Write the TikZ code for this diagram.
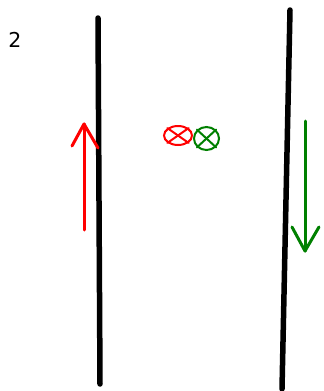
\documentclass[tikz,border=0pt]{standalone}
\usepackage{fontspec}
\setmainfont{DejaVu Sans}
\usetikzlibrary{shapes.geometric}
\definecolor{myred}{RGB}{255,0,0}
\definecolor{mygreen}{RGB}{0,128,0}
\begin{document}
\begin{tikzpicture}[x=1pt,y=-1pt,
  wall/.style={line width=5.5pt,line cap=round,black},
  redpen/.style={line width=3pt,line cap=round,line join=round,myred},
  greenpen/.style={line width=3pt,line cap=round,line join=round,mygreen},
  crossring/.style={draw,line width=2pt,ellipse,inner sep=0pt}]
\useasboundingbox (0,0) rectangle (324,391);
\node[font=\fontsize{20.5}{24}\selectfont,inner sep=0pt,anchor=base] (lbl) at (15,47.3) {2};
% walls
\coordinate (l1) at (98,18); \coordinate (l2) at (100,384);
\coordinate (r1) at (290,10); \coordinate (r2) at (282,389);
\draw[wall] (l1) -- (l2);
\draw[wall] (r1) -- (r2);
% red arrow
\coordinate (ra) at (84,230); \coordinate (rt) at (84,124);
\coordinate (rwl) at (72,146); \coordinate (rwr) at (98,148);
\draw[redpen] (ra) -- (rt);
\draw[redpen] (rwl) -- (rt) -- (rwr);
% green arrow
\coordinate (ga) at (305,121); \coordinate (gt) at (305,251);
\coordinate (gwl) at (292,227); \coordinate (gwr) at (319,227);
\draw[greenpen] (ga) -- (gt);
\draw[greenpen] (gwl) -- (gt) -- (gwr);
% red cross-circle
\node[crossring,draw=myred,minimum width=28pt,minimum height=19pt] (rc) at (178,135.5) {};
\draw[myred,line width=2pt,line cap=round] (rc.north west) -- (rc.south east);
\draw[myred,line width=2pt,line cap=round] (rc.south west) -- (rc.north east);
% green cross-circle
\node[crossring,draw=mygreen,minimum width=25pt,minimum height=23pt] (gc) at (206.5,138.5) {};
\draw[mygreen,line width=2pt,line cap=round] (gc.north west) -- (gc.south east);
\draw[mygreen,line width=2pt,line cap=round] (gc.south west) -- (gc.north east);
\end{tikzpicture}
\end{document}
